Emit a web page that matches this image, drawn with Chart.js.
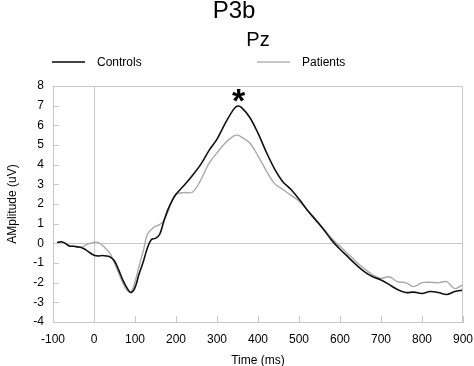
<!DOCTYPE html>
<html>
<head>
<meta charset="utf-8">
<script src="https://cdn.jsdelivr.net/npm/chart.js@4.4.1/dist/chart.umd.min.js"></script>
<style>
  html, body { margin: 0; padding: 0; background: #fff; }
  #wrap { width: 474px; height: 366px; }
</style>
</head>
<body>
<div id="wrap"><canvas id="erpChart"></canvas></div>
<script>
// --- Data ---
const timeMs = [-90, -80, -70, -60, -50, -40, -30, -20, -10, 0, 10, 20, 30, 40, 50, 60, 70, 80, 90,
    100, 110, 120, 130, 140, 150, 160, 170, 180, 190, 200, 220, 240, 260, 280, 300, 320, 340, 350,
    360, 380, 400, 420, 440, 460, 480, 500, 520, 540, 560, 580, 600, 620, 640, 660, 680, 700, 720,
    740, 760, 780, 800, 820, 840, 860, 880, 900];

const controls = [0.03, 0.08, 0.0, -0.14, -0.15, -0.18, -0.22, -0.33, -0.48, -0.6, -0.64, -0.62, -0.64, -0.7, -0.9, -1.35, -1.85, -2.25, -2.5,
    -2.25, -1.55, -0.95, -0.25, 0.2, 0.25, 0.45, 1.1, 1.7, 2.15, 2.5, 2.95, 3.45, 4.0, 4.7, 5.3, 6.1, 6.8, 6.98,
    6.9, 6.4, 5.6, 4.65, 3.8, 3.15, 2.75, 2.25, 1.7, 1.2, 0.7, 0.15, -0.3, -0.7, -1.1, -1.45, -1.7, -1.86, -2.1,
    -2.35, -2.5, -2.48, -2.55, -2.45, -2.5, -2.6, -2.45, -2.38];

const patients = [0.03, 0.08, 0.0, -0.14, -0.15, -0.18, -0.2, -0.08, 0.0, 0.05, 0.05, -0.1, -0.3, -0.55, -1.0, -1.5, -2.0, -2.38, -2.48,
    -1.95, -1.15, -0.4, 0.45, 0.7, 0.87, 0.95, 1.15, 1.6, 2.15, 2.5, 2.58, 2.6, 3.2, 4.05, 4.6, 5.1, 5.45, 5.5,
    5.4, 5.1, 4.45, 3.7, 3.05, 2.75, 2.45, 2.15, 1.7, 1.25, 0.75, 0.25, -0.15, -0.55, -0.95, -1.3, -1.6, -1.78, -1.7,
    -1.95, -2.0, -2.2, -2.0, -1.98, -2.0, -1.95, -2.3, -2.1];

const xTicks = [-100, 0, 100, 200, 300, 400, 500, 600, 700, 800, 900];
const yTicks = [-4, -3, -2, -1, 0, 1, 2, 3, 4, 5, 6, 7, 8];

const seriesNames = ['Controls', 'Patients'];
const starMark = { x: 353, y: 6.7 };   // significance asterisk over the peak

// Styling
const fontFamily = '"Liberation Sans", Arial, sans-serif';
const frameGray = '#c8c8c8';
const controlsColor = '#111111';
const patientsColor = '#aaaaaa';

const toPoints = vals => timeMs.map((t, i) => ({ x: t, y: vals[i] }));

// Headings, legend, inward tick marks and the asterisk
const decorPlugin = {
    id: 'decor',
    afterDraw(chart) {
        const { ctx, chartArea, scales } = chart;
        const plotMid = (chartArea.left + chartArea.right) / 2;
        ctx.save();
        ctx.fillStyle = '#000';
        ctx.textAlign = 'center';
        ctx.textBaseline = 'alphabetic';
        ctx.font = '24px ' + fontFamily;
        ctx.fillText('P3b', 234, 18);
        ctx.font = '20px ' + fontFamily;
        ctx.fillText('Pz', plotMid, 46);

        // legend
        ctx.font = '12px ' + fontFamily;
        ctx.textAlign = 'left';
        ctx.lineWidth = 2;
        const items = [
            { x: 52, color: '#444444' },
            { x: 257, color: '#c8c8c8' }
        ];
        items.forEach((it, i) => {
            ctx.strokeStyle = it.color;
            ctx.beginPath();
            ctx.moveTo(it.x, 62);
            ctx.lineTo(it.x + 33, 62);
            ctx.stroke();
            ctx.fillStyle = '#000';
            ctx.fillText(seriesNames[i], it.x + 45, 66);
        });

        // inward tick marks
        ctx.strokeStyle = frameGray;
        ctx.lineWidth = 1;
        ctx.beginPath();
        xTicks.forEach(t => {
            const px = Math.round(scales.x.getPixelForValue(t)) + 0.5;
            ctx.moveTo(px, chartArea.bottom);
            ctx.lineTo(px, chartArea.bottom - 6);
        });
        yTicks.forEach(v => {
            const py = Math.round(scales.y.getPixelForValue(v)) + 0.5;
            ctx.moveTo(chartArea.left, py);
            ctx.lineTo(chartArea.left + 6, py);
        });
        // frame top and right
        ctx.moveTo(chartArea.left, chartArea.top + 0.5);
        ctx.lineTo(chartArea.right, chartArea.top + 0.5);
        ctx.moveTo(chartArea.right - 0.5, chartArea.top);
        ctx.lineTo(chartArea.right - 0.5, chartArea.bottom);
        ctx.stroke();

        // asterisk
        ctx.fillStyle = '#000';
        ctx.textAlign = 'center';
        ctx.font = 'bold 34px ' + fontFamily;
        ctx.fillText('*', scales.x.getPixelForValue(starMark.x), scales.y.getPixelForValue(starMark.y));
        ctx.restore();
    }
};

new Chart(document.getElementById('erpChart'), {
    type: 'line',
    data: {
        datasets: [
            {
                label: seriesNames[0],
                data: toPoints(controls),
                borderColor: controlsColor,
                borderWidth: 1.6,
                pointRadius: 0,
                tension: 0.35,
                order: 1
            },
            {
                label: seriesNames[1],
                data: toPoints(patients),
                borderColor: patientsColor,
                borderWidth: 1.4,
                pointRadius: 0,
                tension: 0.35,
                order: 2
            }
        ]
    },
    options: {
        responsive: true,
        maintainAspectRatio: false,
        animation: false,
        events: [],
        layout: { padding: { top: 86, right: 11, left: 0, bottom: 0 } },
        plugins: {
            legend: { display: false },
            title: { display: false },
            tooltip: { enabled: false }
        },
        scales: {
            x: {
                type: 'linear',
                min: -100,
                max: 900,
                afterBuildTicks: axis => { axis.ticks = xTicks.map(v => ({ value: v })); },
                afterFit: axis => {
                    axis.height = 44;
                    axis.paddingLeft = 0;
                    axis.paddingRight = 0;
                },
                ticks: { color: '#000', padding: 10, font: { family: fontFamily, size: 12 } },
                grid: {
                    drawTicks: false,
                    color: c => c.tick.value === 0 ? frameGray : 'transparent'
                },
                border: { display: true, color: frameGray },
                title: {
                    display: true,
                    text: 'Time (ms)',
                    color: '#000',
                    font: { family: fontFamily, size: 12 },
                    padding: { top: 0, bottom: -2 }
                }
            },
            y: {
                min: -4,
                max: 8,
                afterBuildTicks: axis => { axis.ticks = yTicks.map(v => ({ value: v })); },
                afterFit: axis => {
                    axis.width = 53;
                    axis.paddingTop = 0;
                    axis.paddingBottom = 0;
                },
                ticks: { color: '#000', padding: 9, font: { family: fontFamily, size: 12 } },
                grid: {
                    drawTicks: false,
                    color: c => c.tick.value === 0 ? frameGray : 'transparent'
                },
                border: { display: true, color: frameGray },
                title: {
                    display: true,
                    text: 'AMplitude (uV)',
                    color: '#000',
                    font: { family: fontFamily, size: 12 },
                    padding: { top: 5, bottom: 0 }
                }
            }
        }
    },
    plugins: [decorPlugin]
});
</script>
</body>
</html>
